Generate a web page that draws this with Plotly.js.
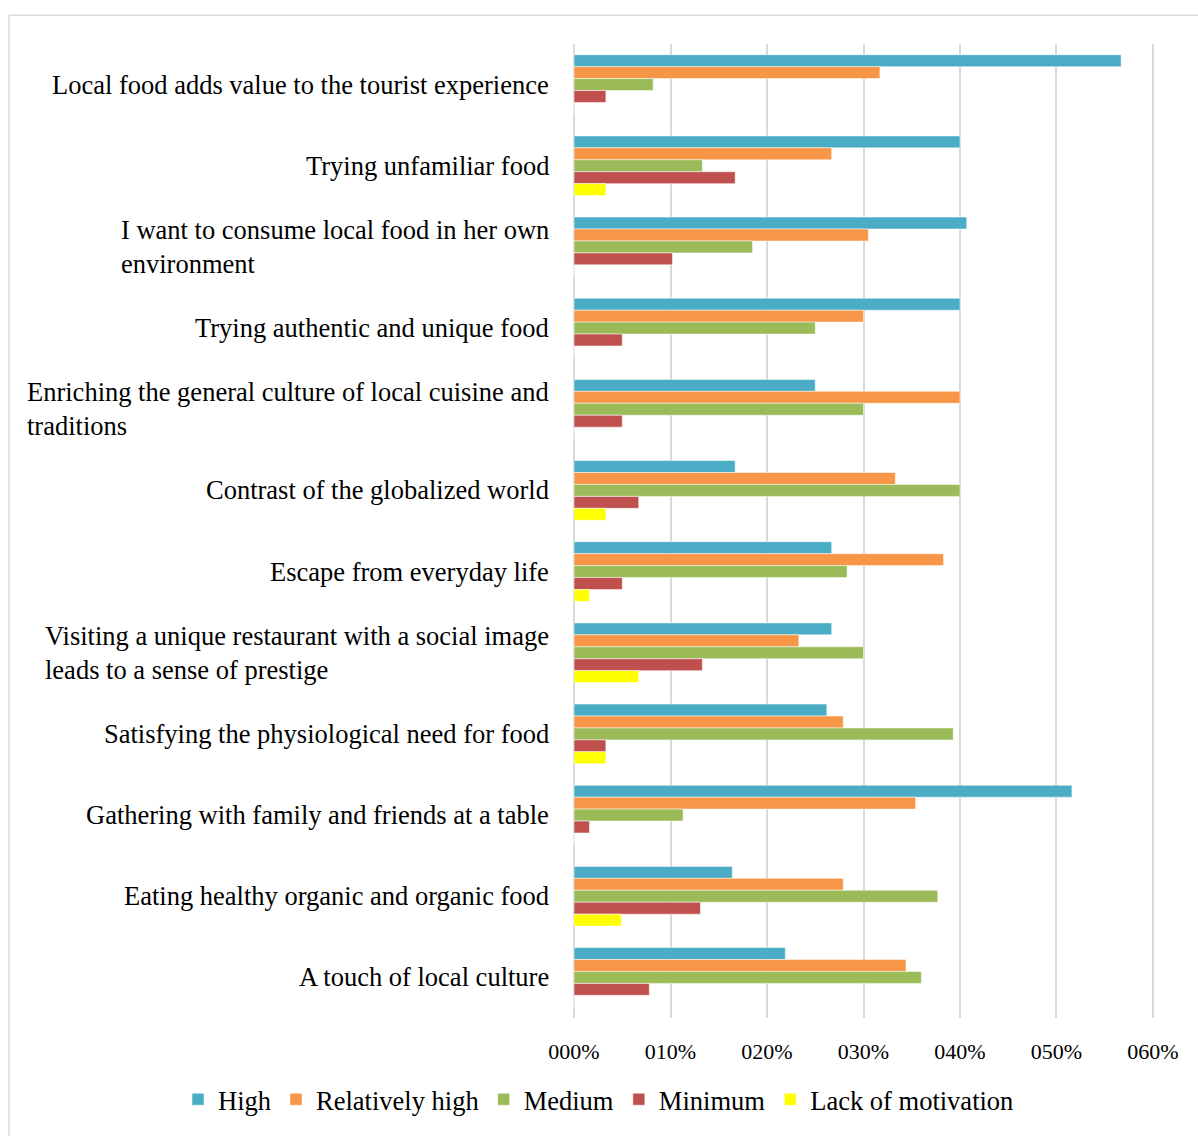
<!DOCTYPE html>
<html>
<head>
<meta charset="utf-8">
<script src="https://cdn.plot.ly/plotly-3.0.1.min.js"></script>
<style>
html,body{margin:0;padding:0;background:#fff;}
#chart{width:1198px;height:1136px;}
</style>
</head>
<body>
<div id="chart"></div>
<script>
const categories = [
  "Local food adds value to the tourist experience",
  "Trying unfamiliar food",
  "I want to consume local food in her own<br>environment",
  "Trying authentic and unique food",
  "Enriching the general culture of local cuisine and<br>traditions",
  "Contrast of the globalized world",
  "Escape from everyday life",
  "Visiting a unique restaurant with a social image<br>leads to a sense of prestige",
  "Satisfying the physiological need for food",
  "Gathering with family and friends at a table",
  "Eating healthy organic and organic food",
  "A touch of local culture"
];
const high         = [0.567, 0.400, 0.407, 0.400, 0.250, 0.167, 0.267, 0.267, 0.262, 0.516, 0.164, 0.219];
const relHigh      = [0.317, 0.267, 0.305, 0.300, 0.400, 0.333, 0.383, 0.233, 0.279, 0.354, 0.279, 0.344];
const medium       = [0.082, 0.133, 0.185, 0.250, 0.300, 0.400, 0.283, 0.300, 0.393, 0.113, 0.377, 0.360];
const minimum      = [0.033, 0.167, 0.102, 0.050, 0.050, 0.067, 0.050, 0.133, 0.033, 0.016, 0.131, 0.078];
const lack         = [0,     0.033, 0,     0,     0,     0.033, 0.016, 0.067, 0.033, 0,     0.049, 0];
const tickVals = [0, 0.1, 0.2, 0.3, 0.4, 0.5, 0.6];
const tickText = ["000%", "010%", "020%", "030%", "040%", "050%", "060%"];

const seriesNames = ["High", "Relatively high", "Medium", "Minimum", "Lack of motivation"];
const seriesVals = [high, relHigh, medium, minimum, lack];
const colors = ["#4BACC6", "#F79646", "#9BBB59", "#C0504D", "#FFFF00"];

const traces = seriesNames.map((n, i) => ({
  type: "bar",
  orientation: "h",
  name: n,
  y: categories,
  x: seriesVals[i],
  marker: {color: colors[i], line: {color: "rgba(255,255,255,0.5)", width: 1}},
  hoverinfo: "x+name"
}));

const W = 1198, H = 1136;
const mL = 572, mR = 43, mT = 44, mB = 112;
const pw = W - mL - mR, ph = H - mT - mB;
const serif = "Liberation Serif";
const px2x = p => (p - mL) / pw;
const px2y = p => (mT + ph - p) / ph;

const annotations = categories.map(c => ({
  xref: "paper", yref: "y",
  x: px2x(551), y: c,
  xanchor: "right", yanchor: "middle",
  align: "left",
  text: c,
  showarrow: false,
  font: {family: serif, size: 26.5, color: "#000"}
}));

const layout = {
  width: W, height: H,
  margin: {l: mL, r: mR, t: mT, b: mB, pad: 0},
  paper_bgcolor: "#fff", plot_bgcolor: "#fff",
  barmode: "group",
  bargap: 0.265,
  bargroupgap: 0,
  font: {family: serif, color: "#000"},
  xaxis: {
    range: [-0.0021, 0.6021],
    tickvals: tickVals, ticktext: tickText,
    tickfont: {family: serif, size: 22, color: "#000"},
    showgrid: true, gridcolor: "#d9d9d9", gridwidth: 2,
    zeroline: true, zerolinecolor: "#d9d9d9", zerolinewidth: 2,
    showline: false, ticks: "",
    ticklabelstandoff: 18,
    fixedrange: true
  },
  yaxis: {
    type: "category",
    categoryorder: "array", categoryarray: categories,
    autorange: "reversed",
    showticklabels: false, showgrid: false, zeroline: false,
    showline: false, ticks: "",
    fixedrange: true
  },
  showlegend: true,
  legend: {
    orientation: "h",
    traceorder: "normal",
    xref: "paper", yref: "paper",
    x: px2x(178), xanchor: "left",
    y: px2y(1106), yanchor: "middle",
    font: {family: serif, size: 26.5, color: "#000"},
    itemwidth: 30,
    tracegroupgap: 0
  },
  annotations: annotations,
  shapes: [
    {type: "line", xref: "paper", yref: "paper",
     x0: px2x(9), x1: px2x(1210), y0: px2y(15), y1: px2y(15),
     line: {color: "#d9d9d9", width: 1.5}, layer: "below"},
    {type: "line", xref: "paper", yref: "paper",
     x0: px2x(9), x1: px2x(9), y0: px2y(15), y1: px2y(1150),
     line: {color: "#d9d9d9", width: 1.5}, layer: "below"}
  ]
};

Plotly.newPlot("chart", traces, layout, {displayModeBar: false, staticPlot: true});
</script>
</body>
</html>
